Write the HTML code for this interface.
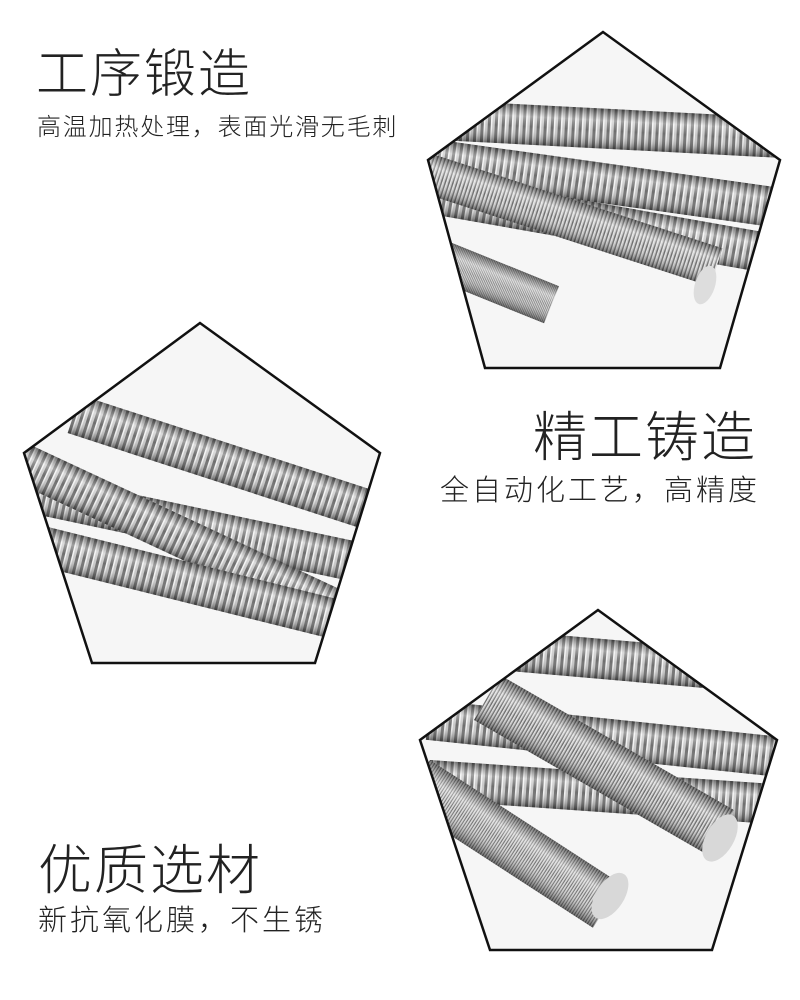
<!DOCTYPE html>
<html><head><meta charset="utf-8"><style>
html,body{margin:0;padding:0;background:#fff;}
body{width:800px;height:1000px;position:relative;overflow:hidden;font-family:"Liberation Sans","Noto Sans CJK SC",sans-serif;color:#222;}
.t{position:absolute;font-weight:300;white-space:nowrap;}
svg{position:absolute;left:0;top:0;}
</style></head><body>
<svg width="800" height="1000" viewBox="0 0 800 1000">
<defs>
<pattern id="th" width="7" height="40" patternUnits="userSpaceOnUse">
<rect width="7" height="40" fill="#c9c9c9"/>
<rect x="0" width="3" height="40" fill="#6e6e6e"/>
<rect x="3" width="1.5" height="40" fill="#f2f2f2"/>
</pattern>
<linearGradient id="sh" x1="0" y1="0" x2="0" y2="1">
<stop offset="0" stop-color="#000" stop-opacity="0.45"/>
<stop offset="0.3" stop-color="#fff" stop-opacity="0.35"/>
<stop offset="0.55" stop-color="#fff" stop-opacity="0"/>
<stop offset="1" stop-color="#000" stop-opacity="0.5"/>
</linearGradient>
<clipPath id="c1"><polygon points="603,32 428,160 485,368 720,368 780,160"/></clipPath>
<clipPath id="c2"><polygon points="200,323 24,453 92,663 315,663 380,453"/></clipPath>
<clipPath id="c3"><polygon points="598,610 420,740 490,950 712,950 777,740"/></clipPath>
<g id="rod"><rect x="0" y="0" width="600" height="40" fill="url(#th)"/><rect x="0" y="0" width="600" height="40" fill="url(#sh)"/></g>
</defs>
<g clip-path="url(#c1)">
<rect x="420" y="30" width="370" height="340" fill="#f6f6f6"/>
<use href="#rod" transform="translate(440,100) rotate(3)"/>
<use href="#rod" transform="translate(440,140) rotate(8)"/>
<use href="#rod" transform="translate(440,175) rotate(10)"/>
<use href="#rod" transform="translate(420,150) rotate(18) scale(0.53,1)"/>
<use href="#rod" transform="translate(420,230) rotate(22) scale(0.25,1)"/>
<ellipse cx="705" cy="285" rx="10" ry="20" fill="#ddd" transform="rotate(18 705 285)"/>
</g>
<polygon points="603,32 428,160 485,368 720,368 780,160" fill="none" stroke="#111" stroke-width="2.5"/>
<g clip-path="url(#c2)">
<rect x="20" y="320" width="365" height="345" fill="#f6f6f6"/>
<use href="#rod" transform="translate(80,395) rotate(18)"/>
<use href="#rod" transform="translate(20,470) rotate(12)"/>
<use href="#rod" transform="translate(20,440) rotate(25)"/>
<use href="#rod" transform="translate(20,520) rotate(14)"/>
</g>
<polygon points="200,323 24,453 92,663 315,663 380,453" fill="none" stroke="#111" stroke-width="2.5"/>
<g clip-path="url(#c3)">
<rect x="415" y="605" width="370" height="350" fill="#f6f6f6"/>
<use href="#rod" transform="translate(500,630) rotate(5)"/>
<use href="#rod" transform="translate(430,700) rotate(6)"/>
<use href="#rod" transform="translate(430,760) rotate(4)"/>
<use href="#rod" transform="translate(500,675) rotate(30) scale(0.45,1.3)"/>
<use href="#rod" transform="translate(430,760) rotate(33) scale(0.38,1.3)"/>
<ellipse cx="720" cy="838" rx="14" ry="26" fill="#d8d8d8" transform="rotate(30 720 838)"/>
<ellipse cx="610" cy="896" rx="14" ry="26" fill="#d8d8d8" transform="rotate(33 610 896)"/>
</g>
<polygon points="598,610 420,740 490,950 712,950 777,740" fill="none" stroke="#111" stroke-width="2.5"/>
</svg>
<div class="t" style="left:36px;top:32px;font-size:52px;letter-spacing:2px;">工序锻造</div>
<div class="t" style="left:37px;top:107px;font-size:24px;letter-spacing:1.8px;">高温加热处理，表面光滑无毛刺</div>
<div class="t" style="left:533px;top:393px;font-size:54px;letter-spacing:2px;">精工铸造</div>
<div class="t" style="left:440px;top:467px;font-size:29px;letter-spacing:3px;">全自动化工艺，高精度</div>
<div class="t" style="left:38px;top:826px;font-size:54px;letter-spacing:2px;">优质选材</div>
<div class="t" style="left:38px;top:897px;font-size:29px;letter-spacing:3px;">新抗氧化膜，不生锈</div>
</body></html>
